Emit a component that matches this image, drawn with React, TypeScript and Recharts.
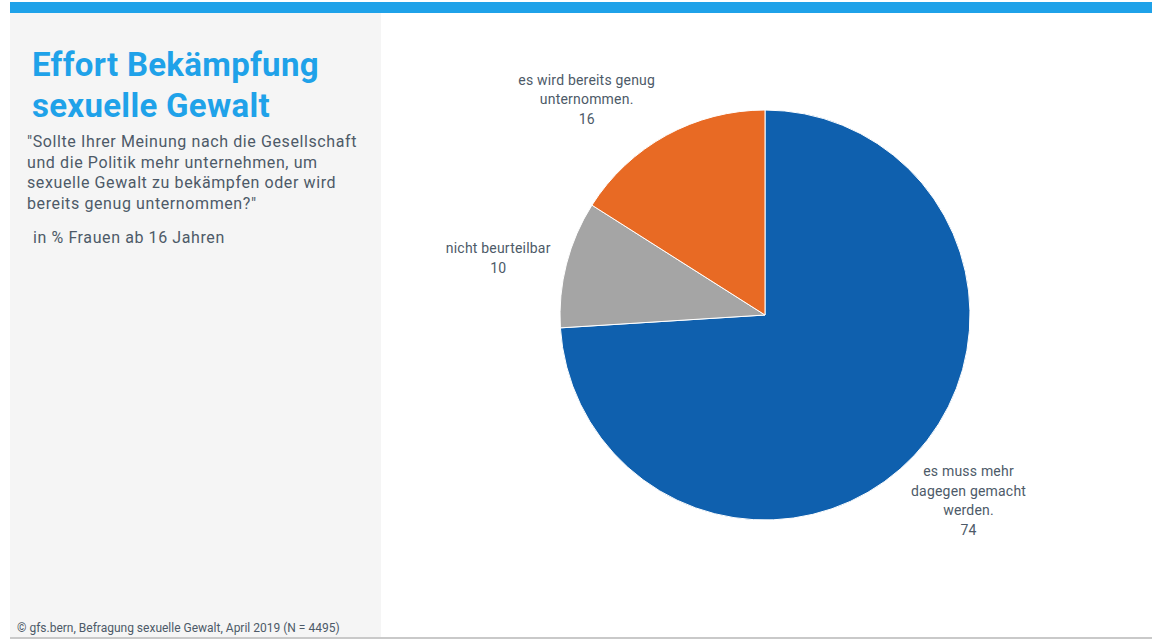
import { PieChart, Pie, Cell } from "recharts"

// answer categories and shares (in %)
const categories = [
  "es muss mehr dagegen gemacht werden.",
  "nicht beurteilbar",
  "es wird bereits genug unternommen.",
]
const shares = [74, 10, 16]
const colors = ["#0f60ae", "#a5a5a5", "#e86a24"]

// label text split into lines, same order as categories
const labelLines = [
  ["es muss mehr", "dagegen gemacht", "werden."],
  ["nicht beurteilbar"],
  ["es wird bereits genug", "unternommen."],
]

const data = categories.map((name, i) => ({ name, value: shares[i] }))

const RADIAN = Math.PI / 180
const LABEL_FONT = "Roboto, 'Noto Sans', sans-serif"
// nudges so labels sit where the original placed them
const labelDist = [66, 88, 80]
const labelShift = [
  { dx: 6, dy: 0 },
  { dx: 17, dy: 16 },
  { dx: -41, dy: 34 },
]

const renderLabel = (props: any) => {
  const { cx, cy, midAngle, outerRadius, index, value } = props
  const r = outerRadius + labelDist[index]
  const x = cx + r * Math.cos(-midAngle * RADIAN) + labelShift[index].dx
  const y = cy + r * Math.sin(-midAngle * RADIAN) + labelShift[index].dy
  const lines = [...labelLines[index], String(value)]
  const lh = 19.5
  const top = y - ((lines.length - 1) * lh) / 2
  return (
    <text
      x={x}
      y={top}
      textAnchor="middle"
      dominantBaseline="central"
      fill="#4d5a68"
      fontSize={14}
      letterSpacing={0.2}
      fontFamily={LABEL_FONT}
    >
      {lines.map((l, i) => (
        <tspan key={i} x={x} y={top + i * lh}>
          {l}
        </tspan>
      ))}
    </text>
  )
}

export default function App() {
  return (
    <div
      style={{
        position: "absolute",
        left: 0,
        top: 0,
        width: 1152,
        height: 641,
        background: "#fff",
        fontFamily: LABEL_FONT,
        overflow: "hidden",
      }}
    >
      <div style={{ position: "absolute", left: 10, top: 2, width: 1142, height: 11, background: "#1fa2e9" }} />
      <div style={{ position: "absolute", left: 10, top: 13, width: 371, height: 624, background: "#f5f5f5" }} />
      <div style={{ position: "absolute", left: 10, top: 637, width: 1142, height: 2, background: "#c9c9c9" }} />

      <div
        style={{
          position: "absolute",
          left: 32,
          top: 44,
          color: "#1fa2e9",
          fontSize: 33,
          fontWeight: 700,
          lineHeight: "41px",
          letterSpacing: 0.3,
        }}
      >
        Effort Bekämpfung
        <br />
        sexuelle Gewalt
      </div>
      <div
        style={{
          position: "absolute",
          left: 27,
          top: 132,
          width: 360,
          color: "#4d5a68",
          fontSize: 16,
          lineHeight: "20.5px",
          letterSpacing: 0.6,
          whiteSpace: "nowrap",
        }}
      >
        "Sollte Ihrer Meinung nach die Gesellschaft
        <br />
        und die Politik mehr unternehmen, um
        <br />
        sexuelle Gewalt zu bekämpfen oder wird
        <br />
        bereits genug unternommen?"
      </div>
      <div
        style={{ position: "absolute", left: 33, top: 228, color: "#4d5a68", fontSize: 16, letterSpacing: 0.6 }}
      >
        in % Frauen ab 16 Jahren
      </div>
      <div style={{ position: "absolute", left: 17, top: 621, color: "#4d5a68", fontSize: 12 }}>
        © gfs.bern, Befragung sexuelle Gewalt, April 2019 (N = 4495)
      </div>

      <div style={{ position: "absolute", left: 381, top: 13 }}>
        <PieChart width={771} height={624} margin={{ top: 0, right: 0, bottom: 0, left: 0 }}>
          <Pie
            data={data}
            dataKey="value"
            nameKey="name"
            cx={384}
            cy={302}
            outerRadius={205}
            startAngle={90}
            endAngle={-270}
            stroke="#ffffff"
            strokeWidth={1}
            label={renderLabel}
            labelLine={false}
            isAnimationActive={false}
          >
            {data.map((d, i) => (
              <Cell key={d.name} fill={colors[i]} />
            ))}
          </Pie>
        </PieChart>
      </div>
    </div>
  )
}
